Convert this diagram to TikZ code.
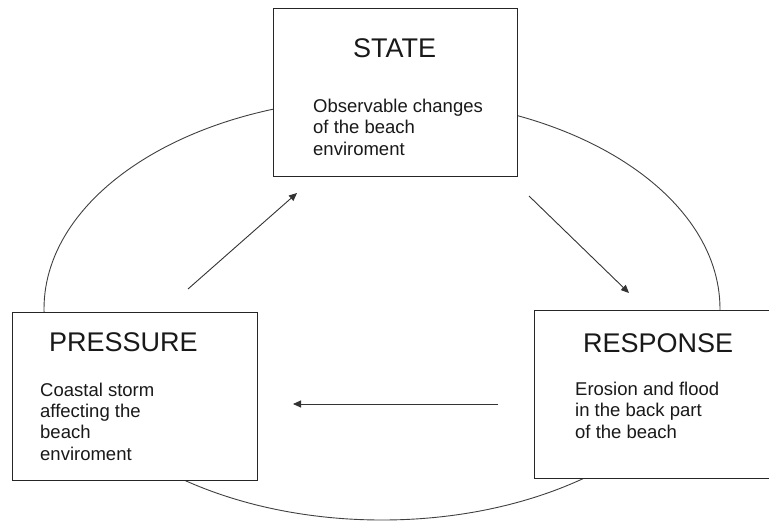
\documentclass[tikz,border=0pt]{standalone}
\usepackage{fontspec}
\setmainfont{Liberation Sans}
\usetikzlibrary{arrows.meta}
\begin{document}
\begin{tikzpicture}[x=1pt,y=-1pt,
  box/.style={draw=black!85, line width=0.9pt, fill=white, inner sep=0pt, anchor=north west},
  ttl/.style={anchor=base west, inner sep=0pt, font=\fontsize{27}{32}\selectfont, text=black!90},
  bdy/.style={anchor=base west, inner sep=0pt, align=left, font=\fontsize{18.5}{21.3}\selectfont, text=black!90},
  arr/.style={draw=black!80, line width=0.9pt, -{Triangle[length=8pt,width=7pt]}},
  ring/.style={draw=black!75, line width=0.9pt}
]
\useasboundingbox (0,0) rectangle (769,520);
\clip (0,0) rectangle (769,520);
\fill[white] (0,0) rectangle (769,520);
\draw[ring] (382,309) ellipse [x radius=338pt, y radius=211pt];
\node[box, minimum width=244pt, minimum height=168pt] (state) at (273,8) {};
\node[box, minimum width=245pt, minimum height=168pt] (pressure) at (12,312) {};
\node[box, minimum width=241pt, minimum height=168pt] (response) at (534,310) {};
\node[ttl] (stateT) at (353,57) {STATE};
\node[ttl] (presT) at (49,351) {PRESSURE};
\node[ttl] (respT) at (583,352) {RESPONSE};
% base anchor of a multi-line node is the baseline of its last line
\node[bdy] (stateB) at (313,155) {Observable changes\\of the beach\\enviroment};
\node[bdy] (presB) at (40,460) {Coastal storm\\affecting the\\beach\\enviroment};
\node[bdy] (respB) at (575,438) {Erosion and flood\\in the back part\\of the beach};
\coordinate (a1s) at (188,289); \coordinate (a1e) at (297,193);
\coordinate (a2s) at (529,196); \coordinate (a2e) at (629,293);
\coordinate (a3s) at (498,404); \coordinate (a3e) at (293,404);
\draw[arr] (a1s) -- (a1e);
\draw[arr] (a2s) -- (a2e);
\draw[arr] (a3s) -- (a3e);
\end{tikzpicture}
\end{document}
